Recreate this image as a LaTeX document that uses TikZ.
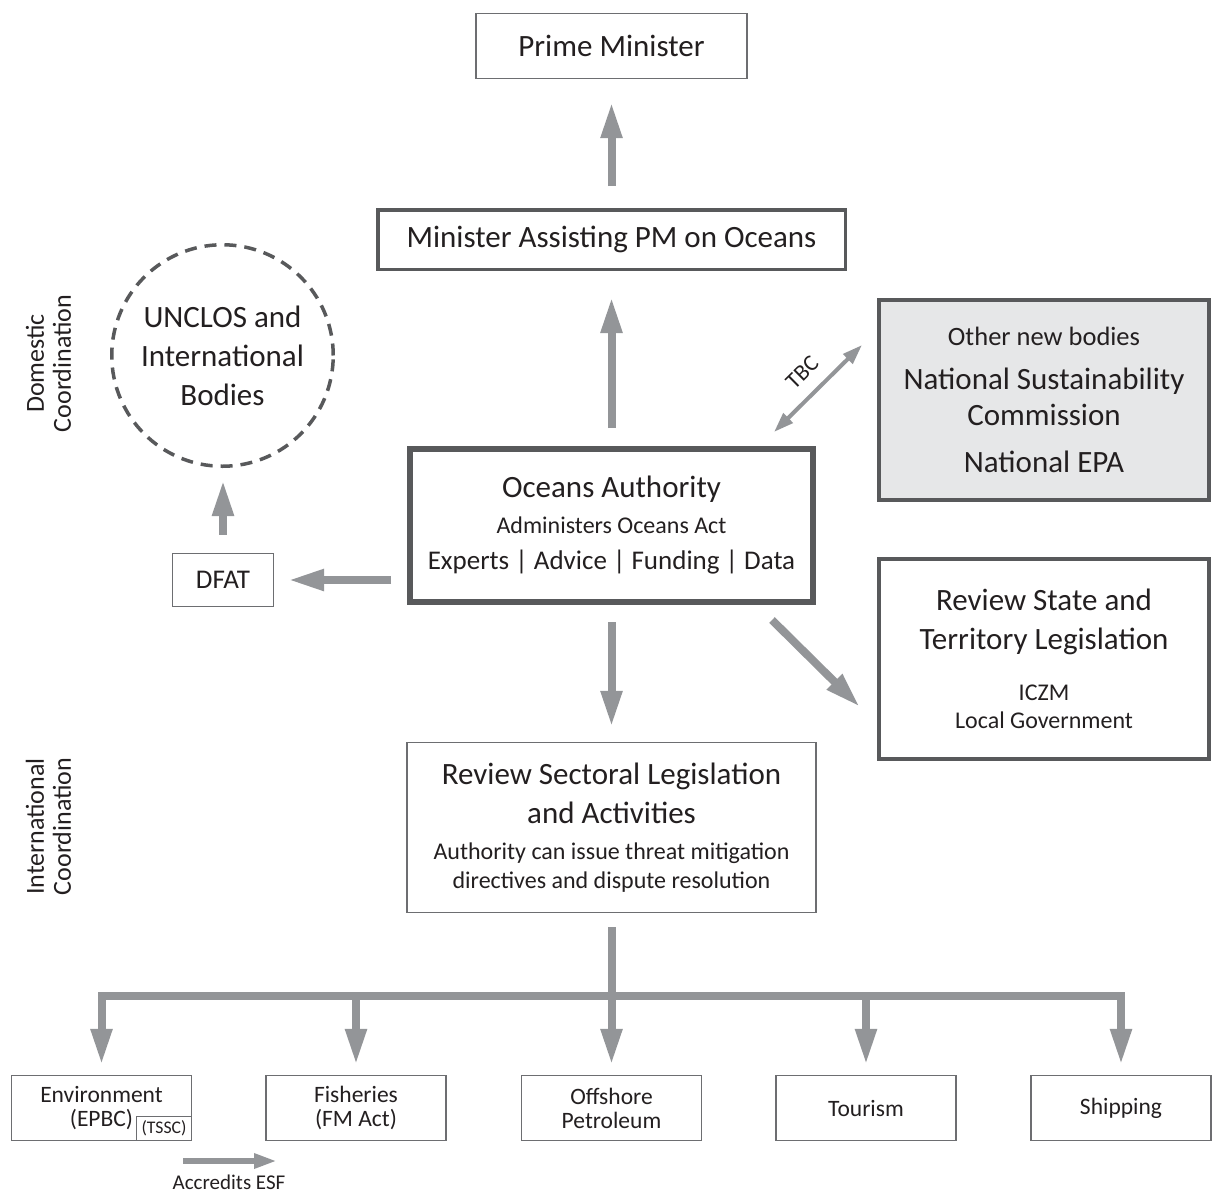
\documentclass[tikz,border=0pt]{standalone}
\usepackage{fontspec}
\setmainfont{Carlito}
\usepackage{tikz}
\usetikzlibrary{arrows.meta}
\definecolor{arrgray}{HTML}{939598}
\definecolor{linegray}{HTML}{58595B}
\definecolor{thingray}{HTML}{6D6E71}
\definecolor{fillgray}{HTML}{E6E7E8}
\definecolor{inkgray}{HTML}{231F20}
\newcommand{\fsz}[2]{\fontsize{#1}{#2}\selectfont}

\begin{document}
\begin{tikzpicture}[x=1pt, y=-1pt, text=inkgray]
        % thinbox = plain outline, midbox/heavybox = dark outline, flow = wide grey arrow
        \tikzstyle{every node}=[inner sep=0pt, align=center]
        \tikzstyle{thinbox}=[draw=thingray, line width=1.3pt, fill=white]
        \tikzstyle{midbox}=[draw=linegray, line width=3.5pt]
        \tikzstyle{heavybox}=[draw=linegray, line width=6pt]
        \tikzstyle{flow}=[draw=arrgray, line width=8pt, -{Triangle[length=36pt, width=20pt]}]
        \tikzstyle{thinflow}=[draw=arrgray, line width=4pt, {Triangle[length=20pt, width=13pt]}-{Triangle[length=20pt, width=13pt]}]
        \tikzstyle{smallflow}=[draw=arrgray, line width=6pt, -{Triangle[length=23pt, width=14pt]}]
        \useasboundingbox (0,0) rectangle (1212,1194);

        \node[thinbox, minimum width=271pt, minimum height=65pt, font=\fsz{31}{37}] (pm) at (611.5,46) {Prime Minister};
        \node[midbox, minimum width=467.5pt, minimum height=59.5pt, font=\fsz{31}{37}] (mao) at (611.5,239.5) {Minister Assisting PM on Oceans};
        \node[circle, draw=linegray, line width=3.5pt, dash pattern=on 12pt off 8pt, minimum size=221.5pt, font=\fsz{31}{39}] (unclos) at (222.5,355.5) {UNCLOS and\\International\\Bodies};
        \node[thinbox, minimum width=101pt, minimum height=53pt, font=\fsz{27}{32}] (dfat) at (223,580) {DFAT};
        \node[heavybox, minimum width=403pt, minimum height=153pt, font=\fsz{31}{35}] (oa) at (611.5,525.5) {Oceans Authority\\[1pt]{\fsz{24}{35}Administers Oceans Act}\\[1pt]{\fsz{27}{35}Experts | Advice | Funding | Data}};
        \node[midbox, line width=4pt, fill=fillgray, minimum width=330pt, minimum height=200pt, font=\fsz{31}{37}] (onb) at (1044,400) {{\fsz{26.5}{37}Other new bodies}\\[7pt]National Sustainability\\[-1pt]Commission\\[10pt]National EPA};
        \node[midbox, line width=4pt, minimum width=330pt, minimum height=200pt, font=\fsz{31}{39}] (rst) at (1044,659) {Review State and\\Territory Legislation\\[12pt]{\fsz{24}{28}ICZM}\\[-11pt]{\fsz{24}{28}Local Government}};
        \node[thinbox, minimum width=409pt, minimum height=170pt, font=\fsz{31}{39}] (rsl) at (611.5,827.5) {Review Sectoral Legislation\\and Activities\\[-3pt]{\fsz{24}{29}Authority can issue threat mitigation}\\[-10pt]{\fsz{24}{29}directives and dispute resolution}};

        \node[rotate=90, font=\fsz{26}{27}] (dom) at (48.5,363.5) {Domestic\\Coordination};
        \node[rotate=90, font=\fsz{26}{27}] (intl) at (48.5,826.5) {International\\Coordination};

        % sector boxes
        \node[thinbox, minimum width=180pt, minimum height=65pt, font=\fsz{23.5}{24}] (env) at (101.5,1108) {Environment\\(EPBC)};
        \node[thinbox, minimum width=180pt, minimum height=65pt, font=\fsz{23.5}{24}] (fish) at (356,1108) {Fisheries\\(FM Act)};
        \node[thinbox, minimum width=180pt, minimum height=65pt, font=\fsz{23.5}{24}] (off) at (611.5,1108) {Offshore\\Petroleum};
        \node[thinbox, minimum width=180pt, minimum height=65pt, font=\fsz{23.5}{24}] (tour) at (866,1108) {Tourism};
        \node[thinbox, minimum width=180pt, minimum height=65pt, font=\fsz{23.5}{24}] (ship) at (1121,1108) {Shipping};
        \node[thinbox, anchor=south east, minimum width=55pt, minimum height=24pt, font=\fsz{17.7}{20}] (tssc) at (env.south east) {(TSSC)};

        % arrows
        \draw[flow, shorten <=22pt, shorten >=23pt] (mao) -- (pm);
        \draw[flow, shorten <=18pt, shorten >=26pt] (oa) -- (mao);
        \draw[flow, shorten <=16pt, shorten >=14pt] (oa.west |- dfat.east) -- (dfat.east);
        \draw[flow, shorten <=18pt, shorten >=12pt] (dfat.north) -- (dfat.north |- unclos.south);
        \draw[flow] ([shift={(-44,15)}]oa.south east) -- ([shift={(-17,48)}]rst.west);
        \draw[thinflow] ([shift={(-42,-14)}]oa.north east) -- ([shift={(-15,-55)}]onb.west)
                node[midway, sloped, above=13pt, font=\fsz{23}{26}] (tbc) {TBC};
        \draw[flow, shorten <=17pt, shorten >=15pt] (oa) -- (rsl);

        \coordinate (fork) at (611.5,995.5);
        \draw[flow, shorten <=14pt, shorten >=10pt] (rsl) -- (off);
        \draw[flow, shorten >=10pt] (fork) -| (env.north);
        \draw[flow, shorten >=10pt] (fork) -| (ship.north);
        \draw[flow, shorten >=10pt] (fork -| fish.north) -- (fish.north);
        \draw[flow, shorten >=10pt] (fork -| tour.north) -- (tour.north);

        \coordinate (esfa) at (183,1161);
        \coordinate (esfb) at (277,1161);
        \draw[smallflow] (esfa) -- (esfb);
        \node[font=\fsz{21}{24}] (esf) at (229,1182) {Accredits ESF};
\end{tikzpicture}
\end{document}
